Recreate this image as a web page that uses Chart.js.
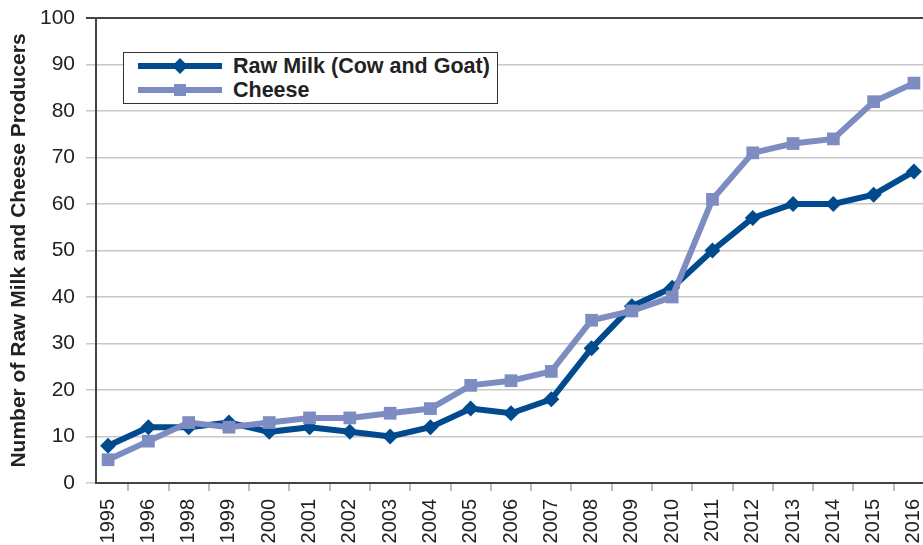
<!DOCTYPE html>
<html>
<head>
<meta charset="utf-8">
<script src="https://cdn.jsdelivr.net/npm/chart.js@4/dist/chart.umd.min.js"></script>
<style>
  body { margin: 0; background: #fff; }
  #wrap { position: relative; width: 923px; height: 545px; overflow: hidden; }
  #legend {
    position: absolute; left: 123px; top: 52px; width: 373px; height: 50px;
    border: 1.5px solid #333; background: #fff;
    font-family: 'Liberation Sans', Arial, sans-serif; font-weight: bold; font-size: 21.5px; color: #222;
  }
  .row { position: absolute; left: 14px; height: 24px; display: flex; align-items: center; white-space: nowrap; }
  .row svg { margin-right: 11px; }
</style>
</head>
<body>
<div id="wrap">
  <!-- canvas a bit wider than the window: the plot runs off the right edge in the source -->
  <canvas id="chart" width="933" height="545"></canvas>
  <div id="legend"></div>
</div>
<script>
// values (note: no 1997 in the source)
years = ['1995', '1996', '1998', '1999', '2000', '2001', '2002', '2003', '2004', '2005', '2006',
         '2007', '2008', '2009', '2010', '2011', '2012', '2013', '2014', '2015', '2016']
rawMilk = [8, 12, 12, 13, 11, 12, 11, 10, 12, 16, 15, 18, 29, 38, 42, 50, 57, 60, 60, 62, 67]
cheese = [5, 9, 13, 12, 13, 14, 14, 15, 16, 21, 22, 24, 35, 37, 40, 61, 71, 73, 74, 82, 86]
yTicks = [0, 10, 20, 30, 40, 50, 60, 70, 80, 90, 100]

darkBlue = '#004a8d'
lightBlue = '#7d8dc2'
font = "'Liberation Sans', Arial, sans-serif"

function toPoints(arr) {
    return arr.map(function (v, i) { return { x: i, y: v } })
}

datasets = [
    {
        label: 'Raw Milk (Cow and Goat)', data: toPoints(rawMilk),
        borderColor: darkBlue, backgroundColor: darkBlue, borderWidth: 6,
        pointStyle: 'rectRot', pointRadius: 8, pointBorderWidth: 0, order: 2
    },
    {
        label: 'Cheese', data: toPoints(cheese),
        borderColor: lightBlue, backgroundColor: lightBlue, borderWidth: 6,
        pointStyle: 'rect', pointRadius: 9, pointBorderWidth: 0, order: 1
    }
]

config = {
    type: 'line',
    data: { datasets: datasets },
    options: {
        responsive: false,
        animation: false,
        layout: { padding: { top: 18, left: 0, right: 0, bottom: 0 } },
        plugins: { legend: { display: false }, tooltip: { enabled: false } },
        scales: {
            x: {
                type: 'linear', min: -0.3, max: 20.25,
                afterBuildTicks: function (s) {
                    t = []
                    for (let i = 0; i < years.length; i++) {
                        t.push({ value: i })
                        if (i < years.length - 1) t.push({ value: i + 0.5 })
                    }
                    s.ticks = t
                },
                afterFit: function (s) {
                    s.height = 62
                    s.paddingLeft = 0
                    s.paddingRight = 0
                },
                ticks: {
                    autoSkip: false, minRotation: 90, maxRotation: 90, padding: 8,
                    color: '#222', font: { family: font, size: 20 },
                    callback: function (v) { return Number.isInteger(v) ? years[v] : '' }
                },
                grid: {
                    drawOnChartArea: false, drawTicks: true, tickLength: 8,
                    color: function (ctx) { return Number.isInteger(ctx.tick.value) ? 'rgba(0,0,0,0)' : '#bdbdbd' },
                    lineWidth: 2
                },
                border: { display: true, color: '#444', width: 2 }
            },
            y: {
                min: 0, max: 100,
                afterBuildTicks: function (s) { s.ticks = yTicks.map(function (v) { return { value: v } }) },
                afterFit: function (s) {
                    s.width = 96
                    s.paddingTop = 0
                    s.paddingBottom = 0
                },
                ticks: { color: '#222', font: { family: font, size: 21 }, padding: 11 },
                grid: {
                    tickLength: 10,
                    color: function (ctx) { return ctx.tick.value == 100 ? '#444' : '#c8c8c8' },
                    lineWidth: function (ctx) { return ctx.tick.value == 100 ? 2 : 1.5 }
                },
                border: { display: true, color: '#444', width: 2 },
                title: {
                    display: true, text: 'Number of Raw Milk and Cheese Producers',
                    color: '#222', font: { family: font, size: 21, weight: 'bold' }, padding: { top: 7, bottom: 0 }
                }
            }
        }
    }
}
new Chart(document.getElementById('chart'), config)

// html legend, built from the datasets
function sample(ds) {
    let marker = ds.pointStyle == 'rectRot'
        ? '<polygon points="42,4 50,12 42,20 34,12" fill="' + ds.borderColor + '"/>'
        : '<rect x="36" y="6" width="12" height="12" fill="' + ds.borderColor + '"/>'
    return '<svg width="84" height="24"><line x1="0" y1="12" x2="84" y2="12" stroke="' + ds.borderColor +
        '" stroke-width="6"/>' + marker + '</svg>'
}
html = ''
for (let i = 0; i < datasets.length; i++) {
    html += '<div class="row" style="top:' + (1 + i * 24) + 'px">' + sample(datasets[i]) + datasets[i].label + '</div>'
}
document.getElementById('legend').innerHTML = html
</script>
</body>
</html>
